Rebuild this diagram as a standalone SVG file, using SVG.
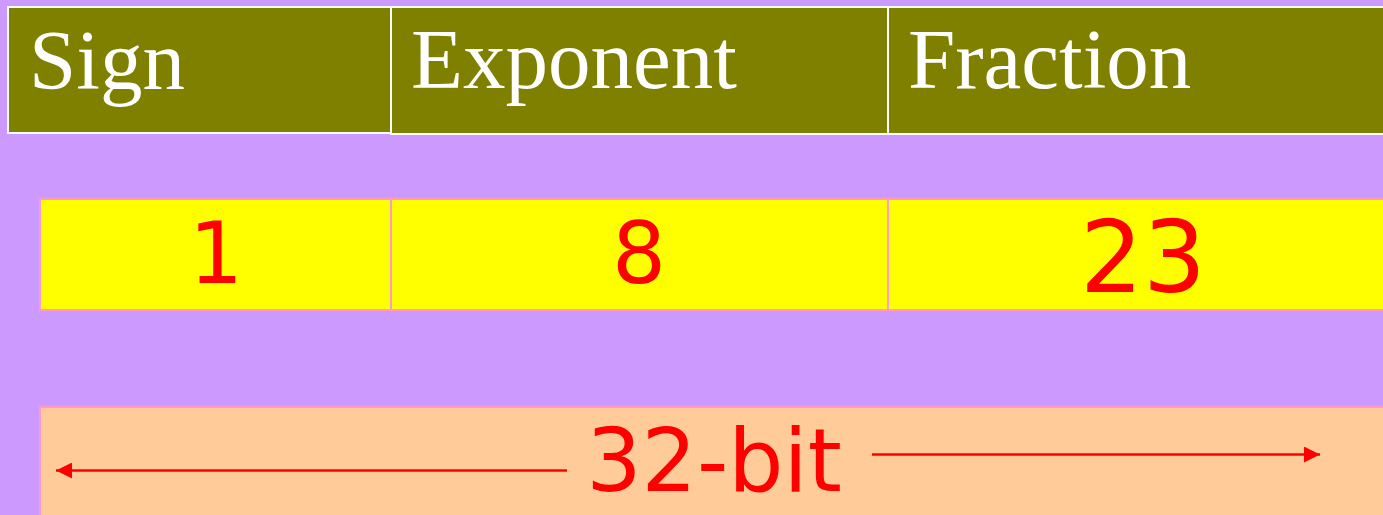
<svg xmlns="http://www.w3.org/2000/svg" width="1383" height="515" viewBox="0 0 1383 515">
<defs>
<style>
.hdr{fill:#808000;stroke:#FFFFFF;stroke-width:2}
.hdrt{font-family:"Liberation Serif","Times New Roman",serif;font-size:85px;fill:#FFFFFF}
.bits{fill:#FFFF00;stroke:#FF99CC;stroke-width:2}
.num{font-family:"DejaVu Sans",Verdana,sans-serif;fill:#FF0000;text-anchor:middle}
.bar{fill:#FFCC99;stroke:#FF99CC;stroke-width:2}
.arr{stroke:#FF0000;stroke-width:2.5;fill:none}
</style>
<marker id="ah" viewBox="0 0 16 16" refX="16" refY="8" markerWidth="16" markerHeight="16" markerUnits="userSpaceOnUse" orient="auto-start-reverse">
<path d="M0,0 L16,8 L0,16 Z" fill="#FF0000"/>
</marker>
</defs>
<rect x="0" y="0" width="1383" height="515" fill="#CC99FF"/>
<g id="sign-header">
<rect class="hdr" x="8" y="7" width="383" height="126"/>
<text class="hdrt" x="29" y="89">Sign</text>
</g>
<g id="exponent-header">
<rect class="hdr" x="391" y="7" width="497" height="127"/>
<text class="hdrt" x="411" y="88">Exponent</text>
</g>
<g id="fraction-header">
<rect class="hdr" x="888" y="7" width="520" height="127"/>
<text class="hdrt" x="908" y="88">Fraction</text>
</g>
<g id="sign-bits">
<rect class="bits" x="40" y="199" width="351" height="111"/>
<text class="num" x="216" y="283" font-size="85">1</text>
</g>
<g id="exponent-bits">
<rect class="bits" x="391" y="199" width="497" height="111"/>
<text class="num" x="639" y="283" font-size="85">8</text>
</g>
<g id="fraction-bits">
<rect class="bits" x="888" y="199" width="520" height="111"/>
<text class="num" x="1143" y="292" font-size="99">23</text>
</g>
<g id="width-bar">
<rect class="bar" x="40" y="407" width="1370" height="130"/>
<text class="num" x="714" y="491" font-size="87">32-bit</text>
</g>
<g id="connectors">
<line class="arr" x1="567" y1="470.5" x2="56" y2="470.5" marker-end="url(#ah)"/>
<line class="arr" x1="872" y1="454.5" x2="1320" y2="454.5" marker-end="url(#ah)"/>
</g>
</svg>
